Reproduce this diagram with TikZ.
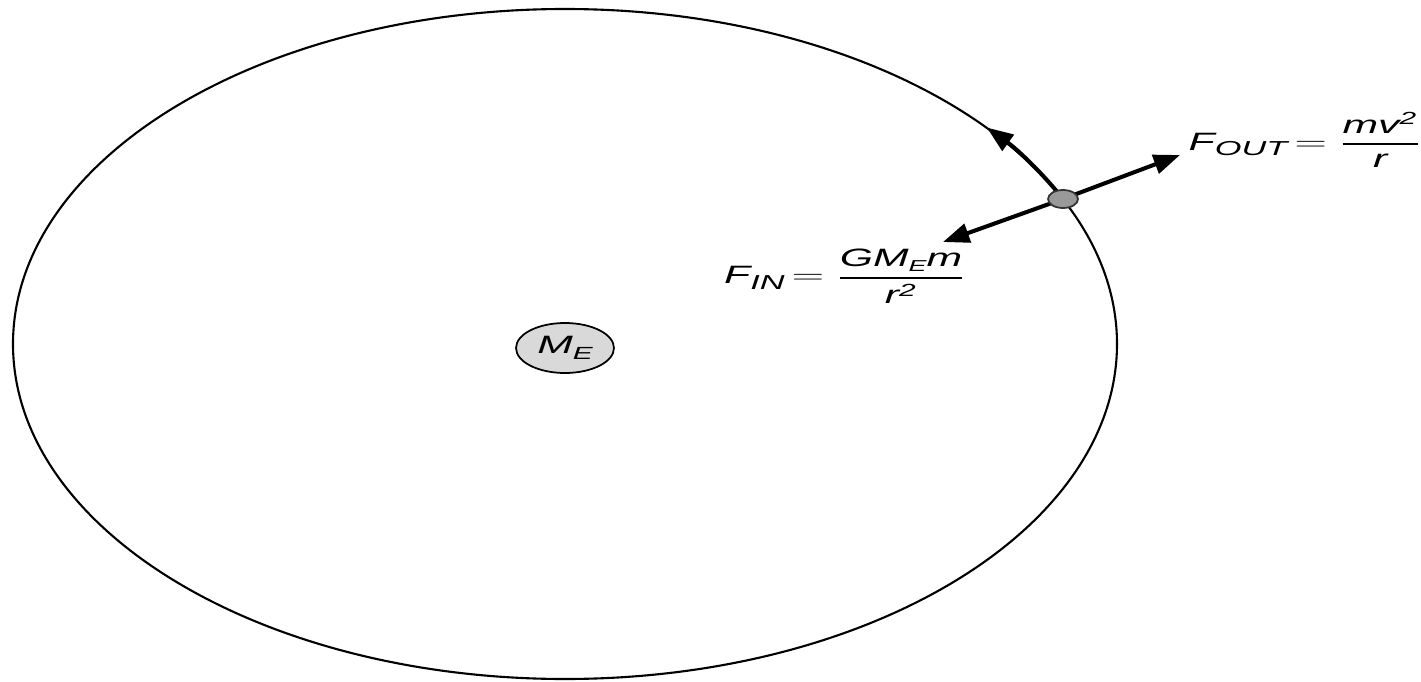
\documentclass[tikz,border=0pt]{standalone}
\usepackage{fontspec}
\setmainfont{Liberation Sans}
\usepackage{amsmath}
\usepackage{graphicx}
\usetikzlibrary{arrows.meta,shapes.geometric}
\newcommand\wide[1]{\scalebox{1.7}[1]{#1}}
\newcommand\lo[2][11.5]{\raisebox{-0.4ex}{\fontsize{#1}{#1}\selectfont #2}}
\newcommand\flin{\genfrac{}{}{1pt}{0}}

\begin{document}
\begin{tikzpicture}[x=0.02cm, y=0.02cm,
  orbit/.style={line width=1.2pt},
  planet/.style={draw, ellipse, line width=1pt, fill=black!15, minimum width=1.96cm,
                 minimum height=1cm, inner sep=0pt, font=\fontsize{14.3}{17}\selectfont\itshape},
  sat/.style={draw=black!80, ellipse, line width=1pt, fill=black!40, minimum width=0.6cm,
              minimum height=0.36cm, inner sep=0pt},
  eqn/.style={inner sep=0pt, font=\fontsize{14.3}{17}\selectfont\itshape},
  arr/.style={line width=2.3pt, -{Triangle[length=15pt, width=11pt]}}]
\useasboundingbox (0,0) rectangle (1421,681);
% orbit round the earth
\draw[orbit] (565,337) ellipse [x radius=552, y radius=335];
\node[planet] (earth) at (565,333) {\wide{M\lo[10]{E}}};
% satellite and the forces on it
\coordinate (satpos) at (1063,482);
\coordinate (outtip) at (1180,526);
\coordinate (intip) at (943,439);
\draw[arr] (satpos) -- (outtip);
\draw[arr] (satpos) -- (intip);
\draw[arr] (satpos) arc[start angle=25.6, end angle=40.2, x radius=552, y radius=335];
\node[sat] (sat) at (satpos) {};
% force labels
\node[eqn] (fout) at (1305,541)
  {\wide{F\lo{OUT}\,$=$\ $\flin{\textit{mv}^{\textit{2}}}{\textit{r}}$}};
\node[eqn] (fin) at (845,405)
  {\wide{F\lo{IN}\,$=$\ $\flin{\textit{GM\lo[9]{E}m}}{\textit{r}^{\textit{2}}}$}};
\end{tikzpicture}
\end{document}
